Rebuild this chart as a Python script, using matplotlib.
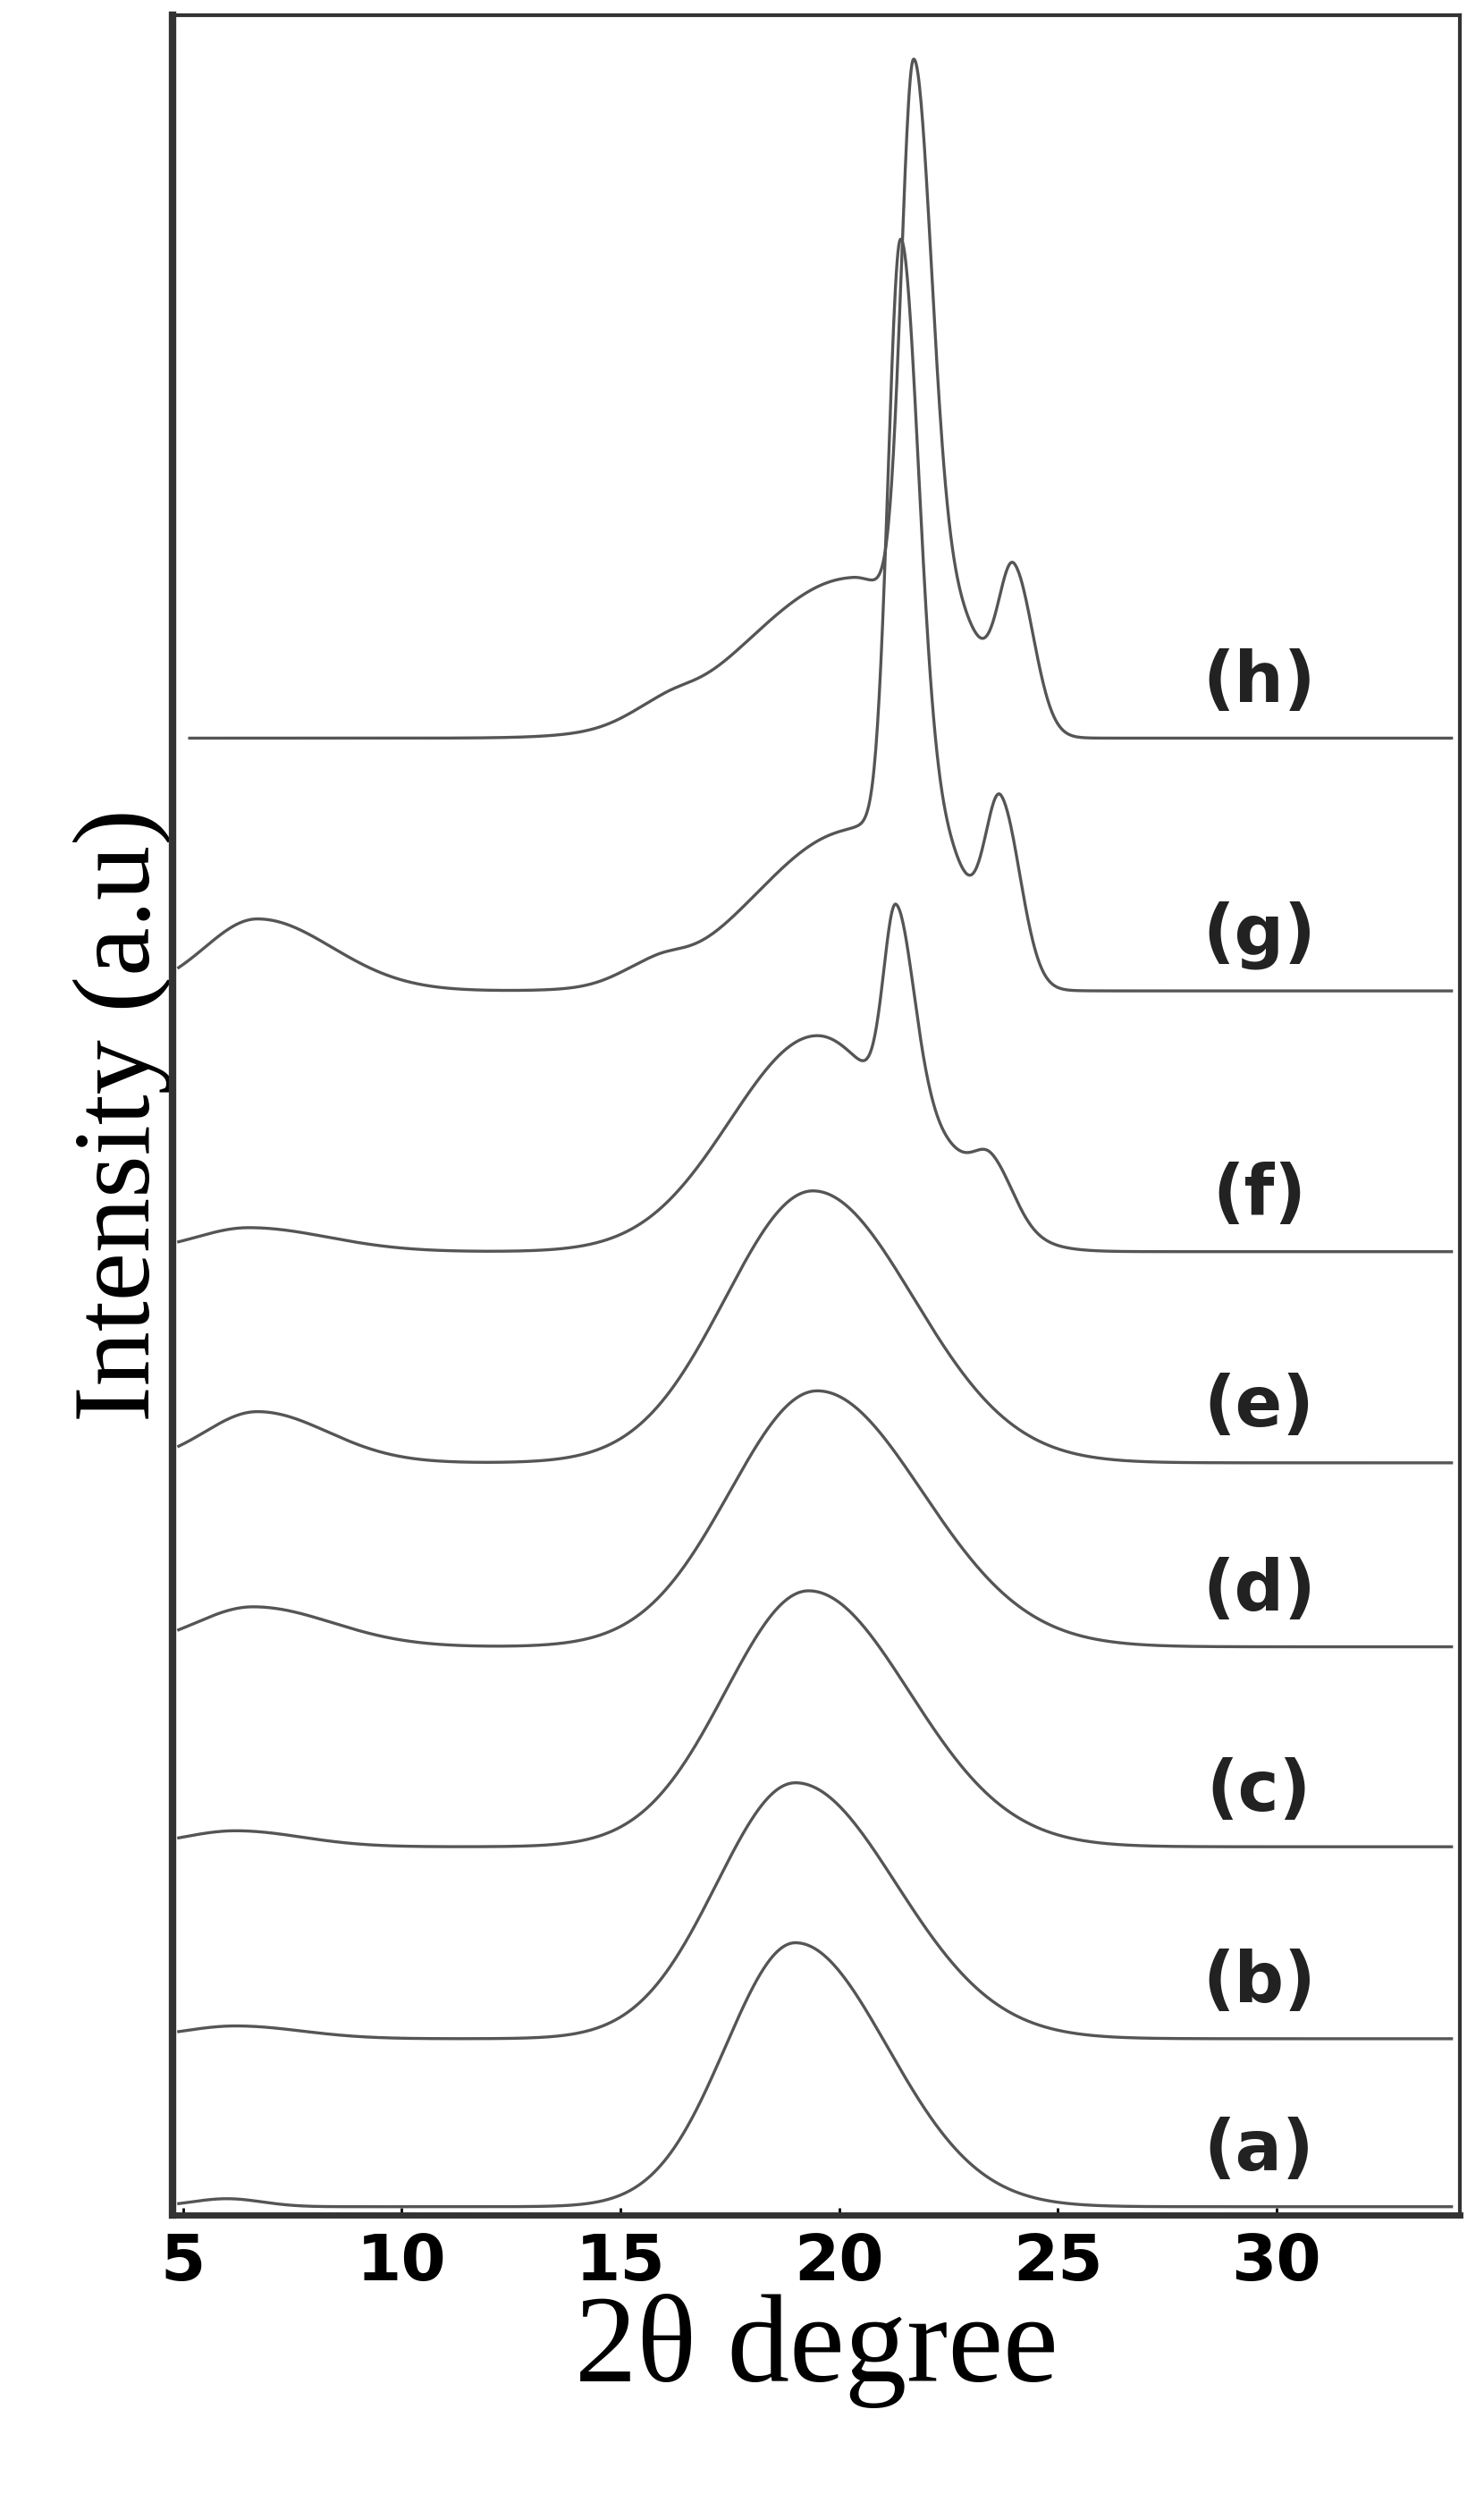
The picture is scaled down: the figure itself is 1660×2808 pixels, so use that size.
import numpy as np
import matplotlib
matplotlib.use("Agg")
import matplotlib.pyplot as plt

labels = ["(a)", "(b)", "(c)", "(d)", "(e)", "(f)", "(g)", "(h)"]
baselines = [5, 110, 230, 355, 470, 602, 765, 923]
# peaks per curve: (center, height, width_left, width_right)
peaks = {
    "(a)": [(6.0, 5, 0.8, 0.8), (19.0, 165, 1.6, 2.1)],
    "(b)": [(6.2, 8, 1.2, 1.5), (19.0, 160, 1.8, 2.3)],
    "(c)": [(6.2, 10, 1.2, 1.5), (19.3, 160, 1.9, 2.3)],
    "(d)": [(6.6, 25, 1.3, 1.8), (19.5, 160, 2.0, 2.4)],
    "(e)": [(6.7, 32, 1.2, 1.6), (19.4, 170, 2.0, 2.3)],
    "(f)": [(6.5, 15, 1.2, 1.8), (19.5, 135, 2.0, 1.8), (21.3, 120, 0.28, 0.4), (23.5, 30, 0.4, 0.5), (22.2, 35, 0.7, 1.2)],
    "(g)": [(6.7, 45, 1.2, 1.7), (15.8, 10, 0.8, 0.6), (20.3, 100, 2.2, 1.4), (21.4, 360, 0.28, 0.4), (22.2, 70, 0.7, 0.8), (23.7, 105, 0.35, 0.45)],
    "(h)": [(16.0, 8, 0.8, 0.6), (20.3, 100, 2.4, 1.4), (21.7, 330, 0.28, 0.4), (22.5, 65, 0.7, 0.8), (24.0, 95, 0.35, 0.45)],
}
starts = [4.9, 4.9, 4.9, 4.9, 4.9, 4.9, 4.9, 5.15]
xticks = [5, 10, 15, 20, 25, 30]

fig = plt.figure(figsize=(16.6, 28.08), dpi=100)
ax = fig.add_axes([0.116, 0.118, 0.868, 0.876])
col = "#555555"
for lab, b, x0 in zip(labels, baselines, starts):
    x = np.linspace(x0, 34.0, 1500)
    y = np.full_like(x, float(b))
    for c, h, wl, wr in peaks[lab]:
        w = np.where(x < c, wl, wr)
        y = y + h * np.exp(-0.5 * ((x - c) / w) ** 2)
    ax.plot(x, y, color=col, lw=2.4)
    ax.text(29.6, b + 35, lab, fontsize=56, ha="center", va="center",
            color="#222222", fontweight="semibold")

ax.set_xlim(4.75, 34.2)
ax.set_ylim(0, 1375)
ax.set_yticks([])
ax.set_xticks(xticks)
ax.set_xticklabels([str(t) for t in xticks], fontsize=52, fontweight="bold")
ax.tick_params(axis="x", length=6, width=2, direction="in", pad=14)
for s in ax.spines.values():
    s.set_linewidth(3)
    s.set_color("#333333")
ax.spines["left"].set_linewidth(6)
ax.spines["bottom"].set_linewidth(5)
ax.set_xlabel("2θ degree", fontsize=100, family="Liberation Serif", labelpad=0)
ax.set_ylabel("Intensity (a.u)", fontsize=88, family="Liberation Serif", labelpad=0)
fig.savefig("out.png", dpi=100)
